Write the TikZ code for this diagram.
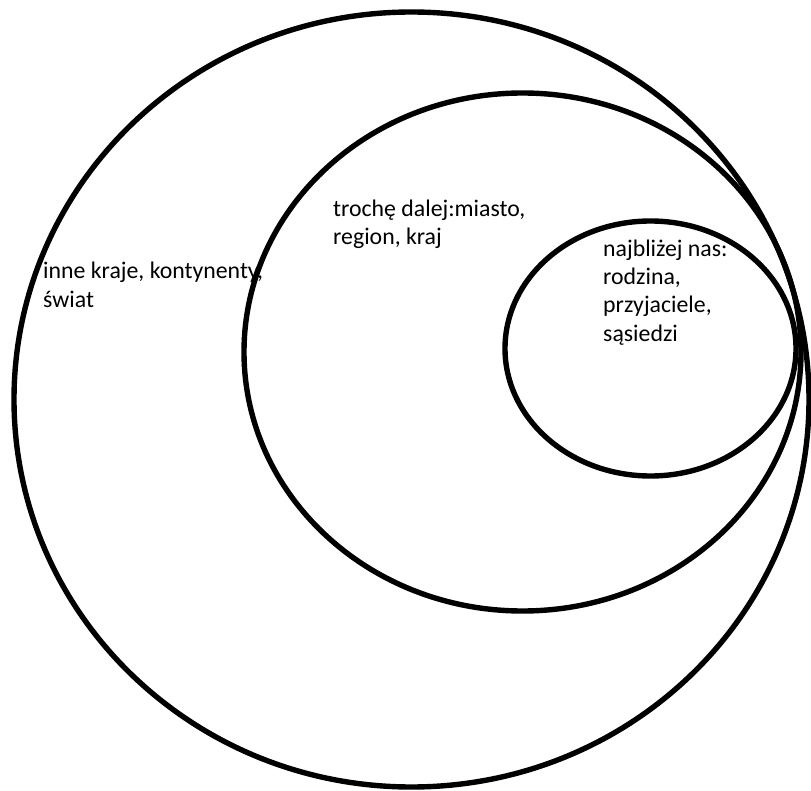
\documentclass[tikz,border=0pt]{standalone}
\usepackage{fontspec}
\setmainfont{Carlito}
\usetikzlibrary{shapes.geometric}
\begin{document}
\begin{tikzpicture}[x=1pt,y=-1pt,
  ring/.style={ellipse,draw=black,line width=5.4pt,inner sep=0pt,fill=none},
  lbl/.style={anchor=base west,inner sep=0pt,font=\fontsize{23.8}{29}\selectfont,text=black}]
\useasboundingbox (0,0) rectangle (811,791);
% texts
\node[lbl] (t1a) at (43,279) {inne kraje, kontynenty,};
\node[lbl] (t1b) at (43,308) {świat};
\node[lbl] (t2a) at (333,217) {trochę dalej:miasto,};
\node[lbl] (t2b) at (333,245) {region, kraj};
\node[lbl] (t3a) at (603,257) {najbliżej nas:};
\node[lbl] (t3b) at (603,285) {rodzina,};
\node[lbl] (t3c) at (603,313) {przyjaciele,};
\node[lbl] (t3d) at (603,342) {sąsiedzi};
% rings
\node[ring,minimum width=795pt,minimum height=775pt] (outer) at (411.5,399.5) {};
\node[ring,minimum width=557pt,minimum height=518pt] (middle) at (522.5,352) {};
\node[ring,minimum width=291pt,minimum height=255pt] (inner) at (650.5,348.5) {};
\end{tikzpicture}
\end{document}
